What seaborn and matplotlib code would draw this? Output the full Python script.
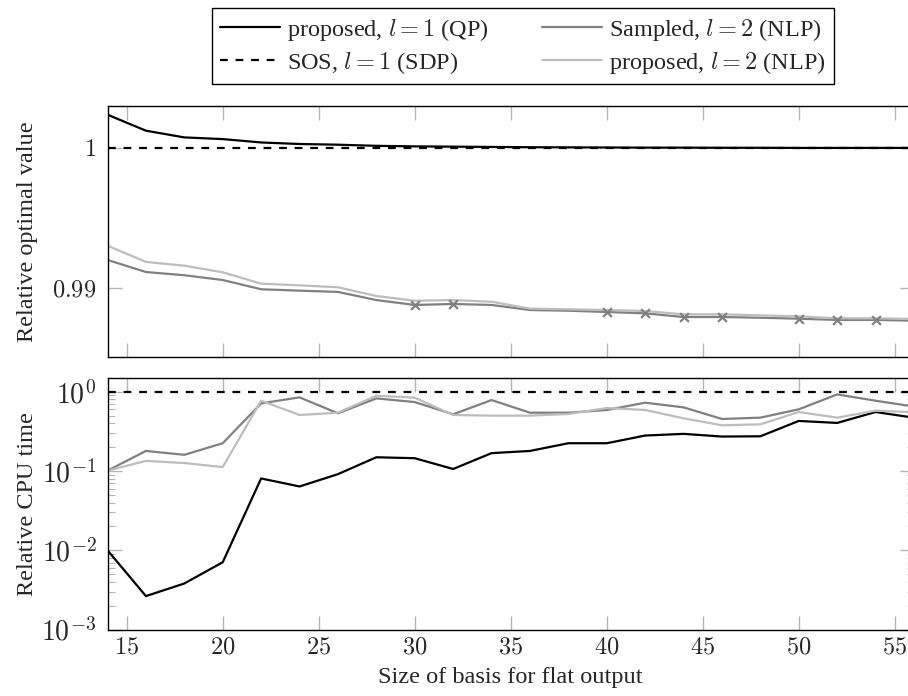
import numpy as np
import pandas as pd
import matplotlib
matplotlib.use("Agg")
import matplotlib.pyplot as plt
import matplotlib.ticker as mticker
import seaborn as sns

# basis size on the x axis
basis_size = [14, 16, 18, 20, 22, 24, 26, 28, 30, 32, 34, 36, 38, 40, 42, 44, 46, 48, 50, 52, 54, 56]

# relative optimal value (top panel)
opt_proposed_l1 = [1.00238, 1.00124, 1.00076, 1.00064, 1.00040, 1.00029, 1.00024, 1.00016, 1.00012, 1.00010, 1.00008,
                   1.00006, 1.00005, 1.00004, 1.00003, 1.00003, 1.00002, 1.00002, 1.00001, 1.00001, 1.00001, 1.00001]
opt_sampled_l2 = [0.99202, 0.99116, 0.99093, 0.99059, 0.98993, 0.98983, 0.98974, 0.98916, 0.98881, 0.98888, 0.98881,
                  0.98845, 0.98840, 0.98831, 0.98821, 0.98795, 0.98795, 0.98790, 0.98783, 0.98774, 0.98774, 0.98769]
opt_proposed_l2 = [0.99304, 0.99188, 0.99161, 0.99114, 0.99033, 0.99021, 0.99007, 0.98945, 0.98911, 0.98916, 0.98904,
                   0.98855, 0.98850, 0.98845, 0.98838, 0.98814, 0.98814, 0.98807, 0.98800, 0.98786, 0.98786, 0.98781]
# sizes where the sampled solution is marked
marked_sizes = [30, 32, 40, 42, 44, 46, 50, 52, 54]

# relative CPU time (bottom panel)
cpu_proposed_l1 = [0.0100, 0.00264, 0.00381, 0.00706, 0.0805, 0.0638, 0.0912, 0.149, 0.145, 0.106, 0.168,
                   0.179, 0.224, 0.224, 0.280, 0.294, 0.272, 0.274, 0.428, 0.404, 0.555, 0.47]
cpu_sampled_l2 = [0.101, 0.179, 0.160, 0.224, 0.713, 0.849, 0.534, 0.824, 0.741, 0.519, 0.785,
                  0.544, 0.544, 0.588, 0.727, 0.635, 0.453, 0.471, 0.600, 0.925, 0.77, 0.65]
cpu_proposed_l2 = [0.101, 0.134, 0.126, 0.112, 0.771, 0.509, 0.544, 0.891, 0.841, 0.509, 0.499,
                   0.499, 0.524, 0.623, 0.588, 0.462, 0.377, 0.388, 0.555, 0.471, 0.577, 0.55]

# SOS is the reference, so it is 1 everywhere
sos_l1 = [1.0] * len(basis_size)

labels = ["proposed, $l = 1$ (QP)", "SOS, $l = 1$ (SDP)", "Sampled, $l = 2$ (NLP)", "proposed, $l = 2$ (NLP)"]
colors = ["black", "black", "#808080", "#bdbdbd"]
styles = ["-", (0, (3.5, 3.5)), "-", "-"]

sns.set_style("ticks")
plt.rcParams["font.family"] = ["Liberation Serif", "DejaVu Serif"]
plt.rcParams["mathtext.fontset"] = "cm"
plt.rcParams["font.size"] = 17.5

fig = plt.figure(figsize=(9.08, 6.96), dpi=100)
ax_top = fig.add_axes([0.1184, 0.4871, 0.8882, 0.3606])
ax_bot = fig.add_axes([0.1184, 0.0955, 0.8882, 0.3609])

top_series = [opt_proposed_l1, sos_l1, opt_sampled_l2, opt_proposed_l2]
bot_series = [cpu_proposed_l1, sos_l1, cpu_sampled_l2, cpu_proposed_l2]

handles = []
for vals, lab, col, ls in zip(top_series, labels, colors, styles):
    sns.lineplot(x=basis_size, y=vals, ax=ax_top, color=col, linestyle=ls, linewidth=1.6, label=lab)
    handles.append(ax_top.get_lines()[-1])

df_sampled = pd.DataFrame({"size": basis_size, "value": opt_sampled_l2})
df_marked = df_sampled[df_sampled["size"].isin(marked_sizes)]
sns.scatterplot(data=df_marked, x="size", y="value", ax=ax_top, marker="x", color="#808080",
                s=40, linewidth=1.6, zorder=5, legend=False)

for vals, lab, col, ls in zip(bot_series, labels, colors, styles):
    sns.lineplot(x=basis_size, y=vals, ax=ax_bot, color=col, linestyle=ls, linewidth=1.6, legend=False)

ax_top.get_legend().remove()

# SOS dashed line on top of the others
for ax in (ax_top, ax_bot):
    ax.lines[1].set_zorder(4)

ax_top.set_xlim(14, 56)
ax_top.set_ylim(0.9851, 1.0030)
ax_top.set_yticks([0.99, 1.0])
ax_top.set_yticklabels([r"$0.99$", r"$1$"])
ax_top.set_xticks([15, 20, 25, 30, 35, 40, 45, 50, 55])
ax_top.set_xticklabels([])
ax_top.set_xlabel("")
ax_top.set_ylabel("Relative optimal value")

ax_bot.set_yscale("log")
ax_bot.set_xlim(14, 56)
ax_bot.set_ylim(1e-3, 1.475)
ax_bot.set_xticks([15, 20, 25, 30, 35, 40, 45, 50, 55])
ax_bot.xaxis.set_major_formatter(mticker.FuncFormatter(lambda v, p: r"$%d$" % v))
ax_bot.yaxis.set_major_locator(mticker.LogLocator(base=10, numticks=10))
ax_bot.yaxis.set_minor_locator(mticker.LogLocator(base=10, subs=np.arange(2, 10), numticks=10))
ax_bot.yaxis.set_major_formatter(mticker.FuncFormatter(lambda v, p: r"$10^{%d}$" % round(np.log10(v))))
ax_bot.yaxis.set_minor_formatter(mticker.NullFormatter())
ax_bot.set_xlabel("Size of basis for flat output", labelpad=6)
ax_bot.set_ylabel("Relative CPU time")

for ax in (ax_top, ax_bot):
    for sp in ax.spines.values():
        sp.set_visible(True)
        sp.set_color("black")
        sp.set_linewidth(1.0)
    ax.tick_params(which="major", direction="in", length=10, width=1.0, color="#b5b5b5",
                   top=True, right=True, labelsize=17.5, pad=8)
    ax.tick_params(which="minor", direction="in", length=5, width=0.8, color="#b5b5b5",
                   top=False, right=True)
    ax.yaxis.set_label_coords(-0.086, 0.5)
ax_bot.tick_params(axis="x", which="major", pad=6)
ax_bot.tick_params(axis="y", which="major", labelsize=20)

leg = fig.legend(handles=handles, labels=labels, ncol=2, loc="upper center",
                 bbox_to_anchor=(523 / 908, 1 - 8 / 696), borderaxespad=0, frameon=True, fancybox=False,
                 edgecolor="black", framealpha=1, fontsize=17.5, handlelength=2.45,
                 handletextpad=0.3, columnspacing=2.2, borderpad=0.35, labelspacing=0.3)
leg.get_frame().set_linewidth(1.0)

fig.savefig("out.png", dpi=100)
